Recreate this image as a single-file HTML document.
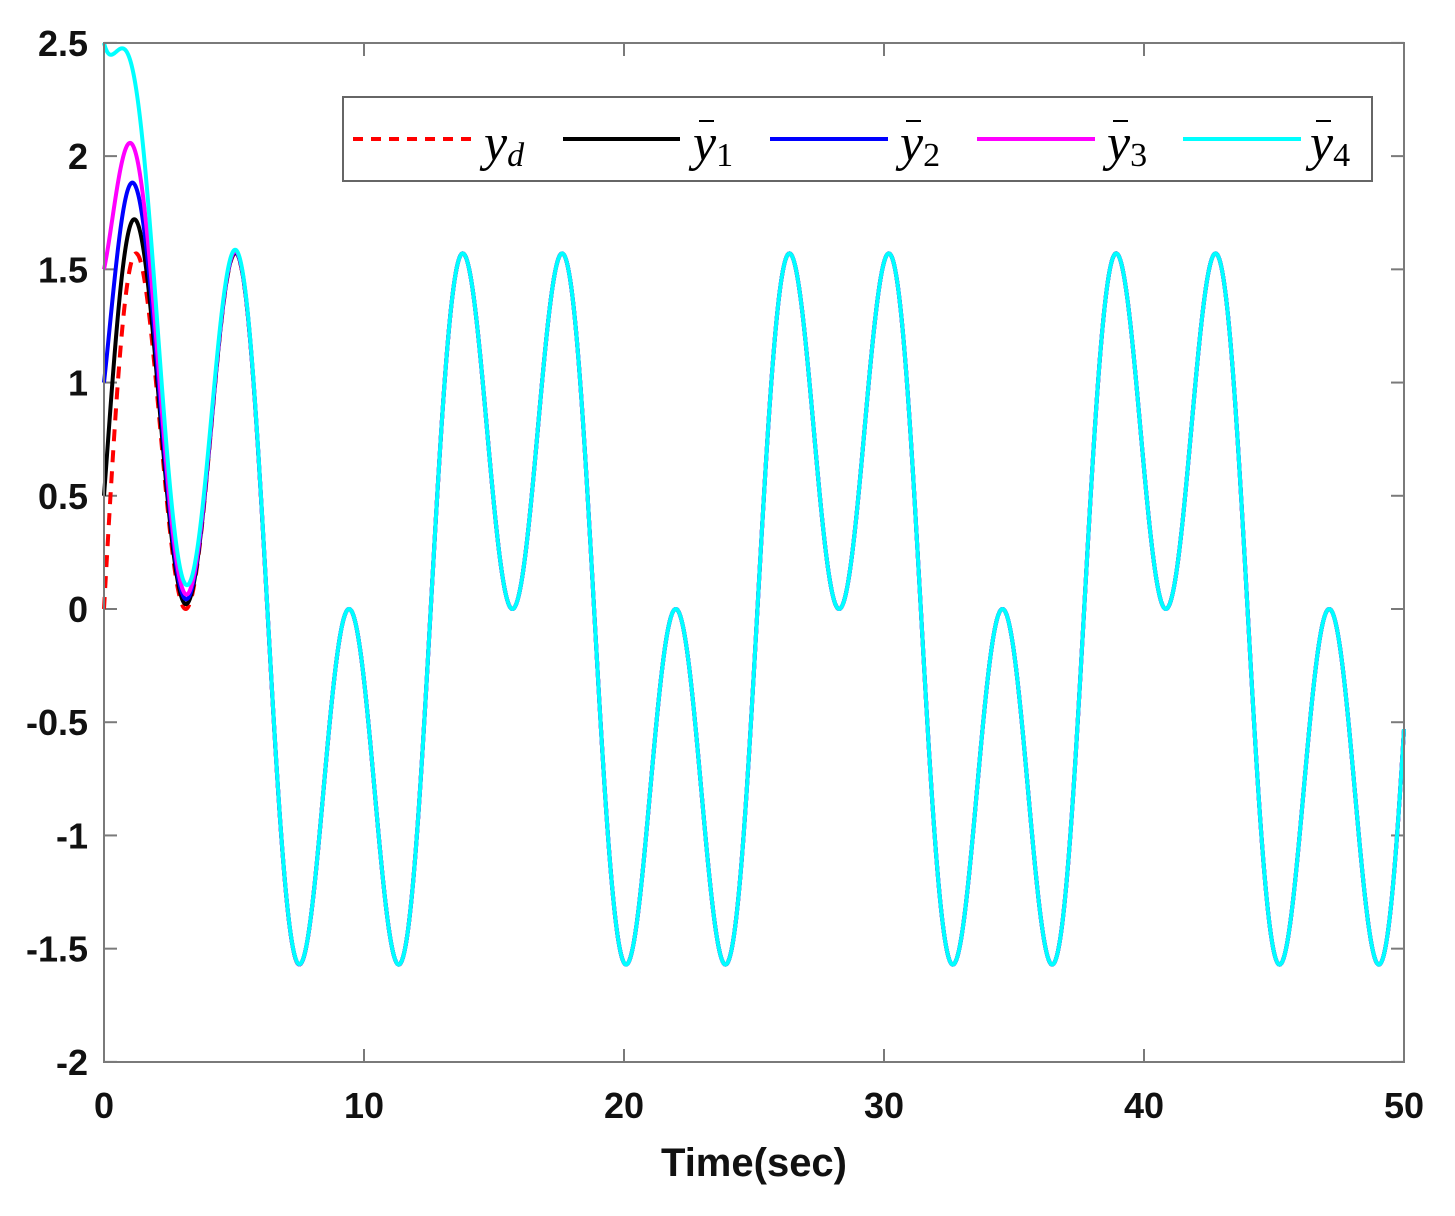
<!DOCTYPE html>
<html><head><meta charset="utf-8"><style>
html,body{margin:0;padding:0;background:#fff}
svg text{font-family:"Liberation Sans",sans-serif}
</style></head><body>
<svg id="chart" width="1455" height="1211" viewBox="0 0 1455 1211" xmlns="http://www.w3.org/2000/svg">
<rect x="0" y="0" width="1455" height="1211" fill="#fff"/>
<g id="ticks"></g>
<g id="series"></g>
<rect x="104" y="43" width="1300" height="1019" fill="none" stroke="#7a7a7a" stroke-width="2"/>
<g>
<rect x="343" y="97" width="1029" height="84" fill="#fff" stroke="#666" stroke-width="2"/>
<line x1="353" y1="139" x2="473" y2="139" stroke="#ff0000" stroke-width="4" stroke-dasharray="10,8"/>
<text x="484" y="160" font-style="italic" font-size="52" style="font-family:'Liberation Serif',serif">y<tspan font-size="34" dy="6">d</tspan></text>
<line x1="563" y1="139" x2="680" y2="139" stroke="#000" stroke-width="4"/>
<text x="693" y="160" font-style="italic" font-size="52" style="font-family:'Liberation Serif',serif">y<tspan font-style="normal" font-size="34" dy="6">1</tspan></text>
<line x1="699" y1="121" x2="714" y2="121" stroke="#000" stroke-width="2"/>
<line x1="770" y1="139" x2="888" y2="139" stroke="#0000ff" stroke-width="4"/>
<text x="900" y="160" font-style="italic" font-size="52" style="font-family:'Liberation Serif',serif">y<tspan font-style="normal" font-size="34" dy="6">2</tspan></text>
<line x1="906" y1="121" x2="921" y2="121" stroke="#000" stroke-width="2"/>
<line x1="977" y1="139" x2="1095" y2="139" stroke="#ff00ff" stroke-width="4"/>
<text x="1107" y="160" font-style="italic" font-size="52" style="font-family:'Liberation Serif',serif">y<tspan font-style="normal" font-size="34" dy="6">3</tspan></text>
<line x1="1113" y1="121" x2="1128" y2="121" stroke="#000" stroke-width="2"/>
<line x1="1183" y1="139" x2="1301" y2="139" stroke="#00ffff" stroke-width="4"/>
<text x="1310" y="160" font-style="italic" font-size="52" style="font-family:'Liberation Serif',serif">y<tspan font-style="normal" font-size="34" dy="6">4</tspan></text>
<line x1="1316" y1="121" x2="1331" y2="121" stroke="#000" stroke-width="2"/>
</g>
<text x="754" y="1176" text-anchor="middle" font-size="40" font-weight="bold" fill="#111">Time(sec)</text>
</svg>
<script>
var xTicks=[0,10,20,30,40,50];
var yTicks=[2.5,2,1.5,1,0.5,0,-0.5,-1,-1.5,-2];
var yTickLabels=["2.5","2","1.5","1","0.5","0","-0.5","-1","-1.5","-2"];
var refAmplitudes=[1.02,1.02];
var refFrequencies=[0.5,1.5];
var initialOutputs=[0.5,1.0,1.5,2.5];
var decayRates=[1,1,1,1];
var seriesColors=["#000000","#0000ff","#ff00ff","#00ffff"];
var tMax=50, tStep=0.02;
var NS="http://www.w3.org/2000/svg";
function X(t){return 104+t*(1300/50);}
function Y(v){return 609-v*226.44;}
function yd(t){var s=0;for(var i=0;i<refAmplitudes.length;i++)s+=refAmplitudes[i]*Math.sin(refFrequencies[i]*t);return s;}
var tk=document.getElementById('ticks');
xTicks.forEach(function(v){
 var l=document.createElementNS(NS,'line');l.setAttribute('x1',X(v));l.setAttribute('x2',X(v));l.setAttribute('y1',1062);l.setAttribute('y2',1049);l.setAttribute('stroke','#7a7a7a');l.setAttribute('stroke-width',2);
 
 
 tk.appendChild(l);
 var l2=document.createElementNS(NS,'line');l2.setAttribute('x1',X(v));l2.setAttribute('x2',X(v));l2.setAttribute('y1',43);l2.setAttribute('y2',56);l2.setAttribute('stroke','#7a7a7a');l2.setAttribute('stroke-width',2);
 
 
 tk.appendChild(l2);
 var t=document.createElementNS(NS,'text');t.setAttribute('x',X(v));t.setAttribute('y',1118);t.setAttribute('text-anchor','middle');t.setAttribute('font-size','36');t.setAttribute('font-weight','bold');t.setAttribute('fill','#111');t.textContent=String(v);
 
 
 tk.appendChild(t);
});
yTicks.forEach(function(v,i){
 var l=document.createElementNS(NS,'line');l.setAttribute('x1',104);l.setAttribute('x2',117);l.setAttribute('y1',Y(v));l.setAttribute('y2',Y(v));l.setAttribute('stroke','#7a7a7a');l.setAttribute('stroke-width',2);
 
 
 tk.appendChild(l);
 var l2=document.createElementNS(NS,'line');l2.setAttribute('x1',1404);l2.setAttribute('x2',1391);l2.setAttribute('y1',Y(v));l2.setAttribute('y2',Y(v));l2.setAttribute('stroke','#7a7a7a');l2.setAttribute('stroke-width',2);
 
 
 tk.appendChild(l2);
 var t=document.createElementNS(NS,'text');t.setAttribute('x',88);t.setAttribute('y',Y(v)+13);t.setAttribute('text-anchor','end');t.setAttribute('font-size','36');t.setAttribute('font-weight','bold');t.setAttribute('fill','#111');t.textContent=yTickLabels[i];
 
 
 tk.appendChild(t);
});
var sg=document.getElementById('series');
function pathFor(fn){var d='';for(var t=0;t<=tMax+1e-9;t+=tStep){d+=(t===0?'M':'L')+X(t).toFixed(2)+','+Y(fn(t)).toFixed(2);}return d;}
var ref=document.createElementNS(NS,'path');
ref.setAttribute('d',pathFor(yd));ref.setAttribute('fill','none');ref.setAttribute('stroke','#ff0000');ref.setAttribute('stroke-width',4);ref.setAttribute('stroke-dasharray','12,9');


sg.appendChild(ref);
initialOutputs.forEach(function(y0,i){
 var e0=y0-yd(0);
 var p=document.createElementNS(NS,'path');
 p.setAttribute('d',pathFor(function(t){return yd(t)+e0*Math.exp(-decayRates[i]*t);}));
 p.setAttribute('fill','none');p.setAttribute('stroke',seriesColors[i]);p.setAttribute('stroke-width',4);
 
 
 sg.appendChild(p);
});
</script>
</body></html>
